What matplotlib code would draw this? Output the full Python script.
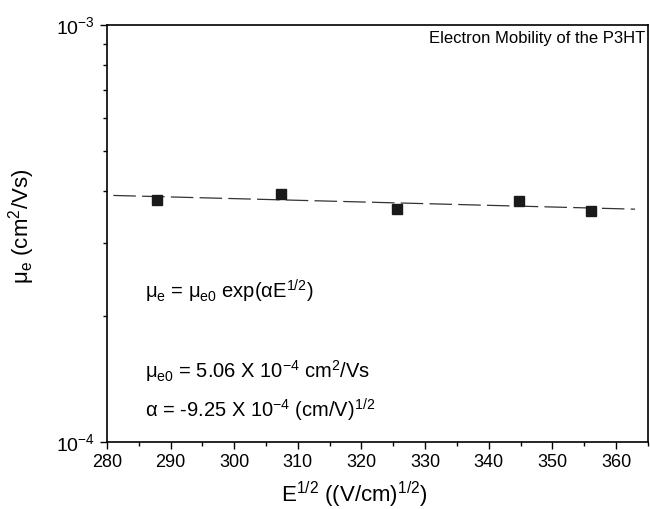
import numpy as np
import matplotlib
matplotlib.use("Agg")
import matplotlib.pyplot as plt
from matplotlib.ticker import LogLocator, NullFormatter, MultipleLocator

plt.rcParams['font.family'] = ['Liberation Sans', 'DejaVu Sans']
plt.rcParams['mathtext.fontset'] = 'custom'
plt.rcParams['mathtext.rm'] = 'Liberation Sans'
plt.rcParams['mathtext.it'] = 'Liberation Sans:italic'
plt.rcParams['mathtext.default'] = 'regular'

# Data
e_sqrt = [287.8, 307.4, 325.6, 344.7, 356.0]          # E^1/2 ((V/cm)^1/2)
mobility = [3.81e-4, 3.93e-4, 3.62e-4, 3.78e-4, 3.58e-4]  # cm^2/Vs

# Fit parameters (Poole-Frenkel form)
mu_e0 = 5.06e-4
alpha = -9.25e-4
fit_range = [281, 363]

fig = plt.figure(figsize=(6.5, 5.09), dpi=100)
ax = fig.add_axes([0.1646, 0.1316, 0.832, 0.8193])

x_fit = np.linspace(fit_range[0], fit_range[1], 200)
ax.plot(x_fit, mu_e0 * np.exp(alpha * x_fit), color='#333333', lw=0.9,
        dashes=(18, 5))
ax.plot(e_sqrt, mobility, 's', color='#1a1a1a', markersize=6.5)

ax.set_yscale('log')
ax.set_xlim(280, 365)
ax.set_ylim(1e-4, 1e-3)

ax.xaxis.set_major_locator(MultipleLocator(10))
ax.xaxis.set_minor_locator(MultipleLocator(5))
ax.yaxis.set_minor_locator(LogLocator(base=10, subs=np.arange(2, 10)))
ax.yaxis.set_minor_formatter(NullFormatter())
ax.set_yticks([1e-4, 1e-3])
ax.set_yticklabels([r'10$^{-4}$', r'10$^{-3}$'], fontsize=14)

ax.tick_params(which='major', direction='out', length=5, width=1)
ax.tick_params(axis='x', labelsize=13)
ax.tick_params(which='minor', direction='out', length=3, width=1)
for s in ax.spines.values():
    s.set_linewidth(1.2)

ax.set_xlabel(r'E$^{1/2}$ ((V/cm)$^{1/2}$)', fontsize=16)
ax.xaxis.set_label_coords(0.458, -0.09)
ax.set_ylabel(r'μ$_{\rm e}$ (cm$^{2}$/Vs)', fontsize=16)
ax.yaxis.set_label_coords(-0.129, 0.518)

ax.text(0.995, 0.985, 'Electron Mobility of the P3HT', transform=ax.transAxes,
        ha='right', va='top', fontsize=12)
ax.text(0.07, 0.36, r'μ$_{\rm e}$ = μ$_{\rm e0}$ exp(αE$^{1/2}$)',
        transform=ax.transAxes, fontsize=14.5, va='center')
ax.text(0.07, 0.17, r'μ$_{\rm e0}$ = 5.06 X 10$^{-4}$ cm$^2$/Vs',
        transform=ax.transAxes, fontsize=14.5, va='center')
ax.text(0.07, 0.075, r'α = -9.25 X 10$^{-4}$ (cm/V)$^{1/2}$',
        transform=ax.transAxes, fontsize=14.5, va='center')

fig.savefig('out.png', dpi=100)
